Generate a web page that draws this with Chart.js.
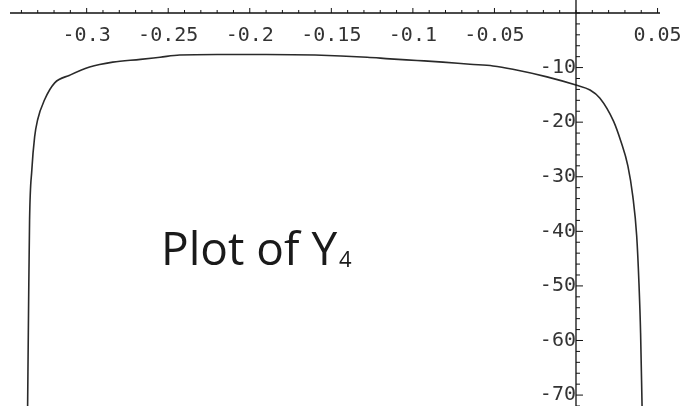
<!DOCTYPE html>
<html>
<head>
<meta charset="utf-8">
<script src="https://cdn.jsdelivr.net/npm/chart.js@4/dist/chart.umd.min.js"></script>
<style>
  html, body { margin: 0; padding: 0; background: #fff; }
  #wrap { width: 680px; height: 406px; }
</style>
</head>
<body>
<div id="wrap"><canvas id="plot"></canvas></div>
<script>
// curve Y4
const xValues = [-0.3362, -0.3356, -0.3350, -0.3336, -0.3319, -0.3301, -0.3258, -0.3196, -0.3104,
  -0.2982, -0.284, -0.267, -0.255, -0.243, -0.22, -0.19, -0.16, -0.128, -0.114, -0.0975, -0.0816,
  -0.065, -0.0509, -0.0387, -0.0178, 0, 0.0086, 0.0147, 0.0230, 0.0275, 0.0318, 0.0348, 0.0372,
  0.0386, 0.0396, 0.0405];
const yValues = [-72, -53.5, -37.9, -28.7, -22.7, -19.6, -15.9, -12.8, -11.4,
  -9.9, -9.0, -8.5, -8.1, -7.7, -7.6, -7.6, -7.7, -8.1, -8.4, -8.7, -9.0,
  -9.4, -9.7, -10.3, -11.7, -13.2, -14.1, -15.6, -19.8, -23.5, -28.0, -33.5, -40.8,
  -49.5, -58.6, -72];

const xMajorTicks = [-0.3, -0.25, -0.2, -0.15, -0.1, -0.05, 0.05];
const xTickLabels = ['-0.3', '-0.25', '-0.2', '-0.15', '-0.1', '-0.05', '0.05'];
const yMajorTicks = [-10, -20, -30, -40, -50, -60, -70];
const yTickLabels = ['-10', '-20', '-30', '-40', '-50', '-60', '-70'];
const xMinorStep = 0.01;
const yMinorStep = 2;
const plotTitle = 'Plot of Y';
const plotSub = '4';

const points = xValues.map((x, i) => ({ x: x, y: yValues[i] }));

function labelFor(majors, labels, v) {
  const i = majors.findIndex(m => Math.abs(m - v) < 1e-6);
  return i >= 0 ? labels[i] : '';
}

function noPadding(s) {
  s.paddingTop = 0; s.paddingBottom = 0; s.paddingLeft = 0; s.paddingRight = 0;
}

// axis lines + tick marks drawn off the scales
const axesPlugin = {
  id: 'axes',
  afterDatasetsDraw(chart) {
    const ctx = chart.ctx;
    const xs = chart.scales.x, ys = chart.scales.y;
    const y0 = ys.getPixelForValue(0);
    const x0 = xs.getPixelForValue(0);
    ctx.save();
    ctx.strokeStyle = '#111';
    ctx.lineWidth = 1.3;
    ctx.beginPath();
    ctx.moveTo(xs.left, y0); ctx.lineTo(xs.right, y0);
    ctx.moveTo(x0, ys.top); ctx.lineTo(x0, ys.bottom);
    ctx.stroke();
    ctx.lineWidth = 1;
    ctx.beginPath();
    xs.ticks.forEach(t => {
      const px = xs.getPixelForValue(t.value);
      const major = xMajorTicks.some(m => Math.abs(m - t.value) < 1e-6);
      ctx.moveTo(px, y0); ctx.lineTo(px, y0 - (major ? 5 : 3));
    });
    ys.ticks.forEach(t => {
      const py = ys.getPixelForValue(t.value);
      const major = yMajorTicks.some(m => Math.abs(m - t.value) < 1e-6);
      ctx.moveTo(x0, py); ctx.lineTo(x0 + (major ? 7 : 4), py);
    });
    ctx.stroke();
    // caption
    ctx.fillStyle = '#1a1a1a';
    ctx.textBaseline = 'alphabetic';
    ctx.textAlign = 'left';
    ctx.font = '46px "Open Sans"';
    ctx.fillText(plotTitle, 161, 265);
    const w = ctx.measureText(plotTitle).width;
    ctx.font = '22px "Open Sans"';
    ctx.fillText(plotSub, 161 + w + 2, 267);
    ctx.restore();
  }
};

new Chart(document.getElementById('plot'), {
  type: 'scatter',
  data: {
    datasets: [{
      data: points,
      showLine: true,
      borderColor: '#2a2a2a',
      borderWidth: 1.6,
      pointRadius: 0,
      cubicInterpolationMode: 'monotone'
    }]
  },
  options: {
    responsive: true,
    maintainAspectRatio: false,
    animation: false,
    layout: { padding: { left: 10, right: 20, top: 0, bottom: 0 } },
    plugins: { legend: { display: false }, tooltip: { enabled: false } },
    scales: {
      x: {
        type: 'linear',
        min: -0.347,
        max: 0.0515,
        position: { y: 0 },
        border: { display: false },
        grid: { display: false },
        afterBuildTicks: s => {
          const t = [];
          for (let i = -34; i <= 5; i++) t.push({ value: i * xMinorStep });
          s.ticks = t;
        },
        afterFit: noPadding,
        ticks: {
          autoSkip: false,
          maxRotation: 0,
          padding: 3,
          color: '#333',
          font: { family: 'DejaVu Sans Mono', size: 20 },
          callback: v => labelFor(xMajorTicks, xTickLabels, v)
        }
      },
      y: {
        type: 'linear',
        min: -72,
        max: 2.38,
        position: { x: 0 },
        border: { display: false },
        grid: { display: false },
        afterBuildTicks: s => {
          const t = [];
          for (let i = 0; i >= -36; i--) t.push({ value: i * yMinorStep });
          s.ticks = t;
        },
        afterFit: noPadding,
        ticks: {
          autoSkip: false,
          padding: 14,
          color: '#333',
          font: { family: 'DejaVu Sans Mono', size: 20 },
          callback: v => labelFor(yMajorTicks, yTickLabels, v)
        }
      }
    }
  },
  plugins: [axesPlugin]
});
</script>
</body>
</html>
